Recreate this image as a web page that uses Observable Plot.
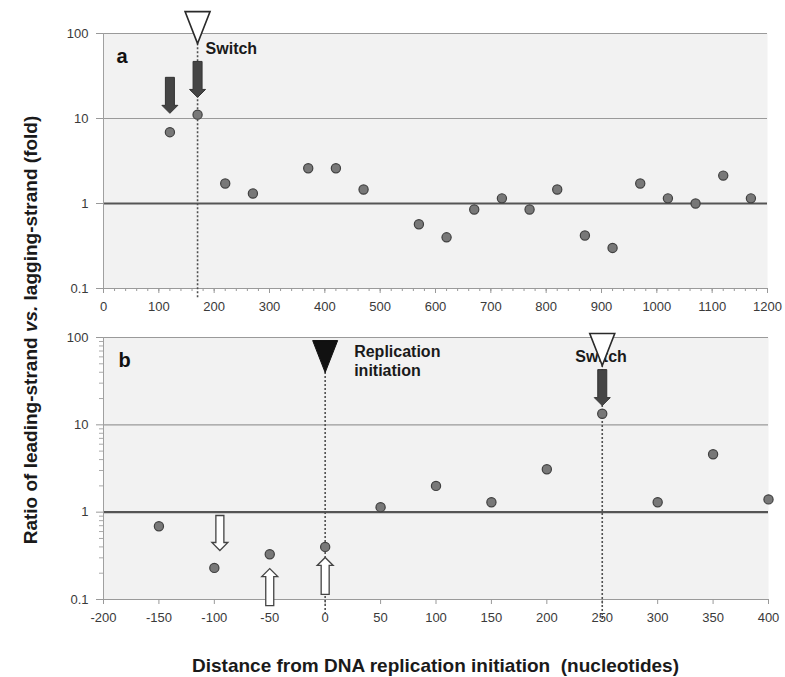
<!DOCTYPE html>
<html><head><meta charset="utf-8">
<script src="https://cdn.jsdelivr.net/npm/d3@7"></script>
<script src="https://cdn.jsdelivr.net/npm/@observablehq/plot@0.6"></script>
<style>
html,body{margin:0;padding:0;background:#fff;}
#chart{position:relative;width:785px;height:677px;overflow:hidden;font-family:"Liberation Sans",Arial,Helvetica,sans-serif;}
.panel{position:absolute;left:0;}
#ytitle{position:absolute;left:30px;top:330px;transform:translate(-50%,-50%) rotate(-90deg);white-space:nowrap;font-weight:bold;font-size:19px;line-height:19px;color:#1a1a1a;}
#xtitle{position:absolute;left:192px;top:656px;white-space:nowrap;font-weight:bold;font-size:19px;line-height:19px;color:#1a1a1a;}
</style></head><body>
<div id="chart">
<div id="panelA" class="panel" style="top:0"></div>
<div id="panelB" class="panel" style="top:320px"></div>
<div id="ytitle">Ratio of leading-strand <i>vs.</i> lagging-strand (fold)</div>
<div id="xtitle">Distance from DNA replication initiation&nbsp; (nucleotides)</div>
</div>
<script>
// ---------- data: panel a ----------
const xA = [120,170,220,270,370,420,470,570,620,670,720,770,820,870,920,970,1020,1070,1120,1170];
const yA = [6.9,11.1,1.72,1.31,2.6,2.6,1.46,0.57,0.40,0.85,1.15,0.85,1.46,0.42,0.30,1.72,1.15,1.0,2.13,1.15];
const xTicksA = [0,100,200,300,400,500,600,700,800,900,1000,1100,1200];
// annotations panel a
const switchA = [{x:170, apex:76, labelY:68, label:"Switch"}];
const darkArrowsA = [{x:120, tip:11.5},{x:170, tip:17.7}];

// ---------- data: panel b ----------
const xB = [-150,-100,-50,0,50,100,150,200,250,300,350,400];
const yB = [0.69,0.23,0.33,0.40,1.14,2.0,1.3,3.1,13.4,1.3,4.6,1.4];
const xTicksB = [-200,-150,-100,-50,0,50,100,150,200,250,300,350,400];
// annotations panel b
const initB = [{x:0, apex:39.7, labelY:54.5, label:"Replication\ninitiation"}];
const switchB = [{x:250, apex:47.8, labelY:62.2, label:"Switch"}];
const darkArrowsB = [{x:250, tip:16.6}];
const whiteDownB = [{x:-95, tip:0.364}];
const whiteUpB = [{x:-50, tip:0.226},{x:0, tip:0.303}];

// ---------- shared y axis ----------
const yTicks = [0.1,1,10,100];
const yTickLabels = ["0.1","1","10","100"];
const gridVals = [0.1,10,100];
const minorY = [0.2,0.3,0.4,0.5,0.6,0.7,0.8,0.9,2,3,4,5,6,7,8,9,20,30,40,50,60,70,80,90];

// ---------- custom symbols ----------
function downArrow(len, head, shaft, headW){
  return {draw(c){
    c.moveTo(-shaft/2,-len); c.lineTo(shaft/2,-len); c.lineTo(shaft/2,-head);
    c.lineTo(headW/2,-head); c.lineTo(0,0); c.lineTo(-headW/2,-head);
    c.lineTo(-shaft/2,-head); c.closePath();
  }};
}
function upArrow(len, head, shaft, headW){
  return {draw(c){
    c.moveTo(-shaft/2,len); c.lineTo(shaft/2,len); c.lineTo(shaft/2,head);
    c.lineTo(headW/2,head); c.lineTo(0,0); c.lineTo(-headW/2,head);
    c.lineTo(-shaft/2,head); c.closePath();
  }};
}
function downTriangle(w,h){
  return {draw(c){ c.moveTo(0,0); c.lineTo(-w/2,-h); c.lineTo(w/2,-h); c.closePath(); }};
}
const darkArrow = downArrow(36, 8, 9, 16);
const whiteDown = downArrow(35, 8, 8, 16);
const whiteUp = upArrow(37, 8, 8, 16);
const tri = downTriangle(25, 32);

const FONT = '"Liberation Sans", Arial, Helvetica, sans-serif';
const fmtY = d => yTickLabels[yTicks.indexOf(d)];

function basePanelMarks(xTicks, minorX, xMin){
  return [
    Plot.frame({fill:"#f2f2f2", stroke:"none"}),
    Plot.ruleY(gridVals, {stroke:"#9a9a9a", strokeWidth:1.2}),
    Plot.ruleY([1], {stroke:"#555", strokeWidth:2.2}),
    Plot.ruleX([xMin], {stroke:"#a0a0a0"}),
    ...(minorX ? [Plot.axisX({ticks:minorX, tickSize:3, tickFormat:()=>"", label:null, stroke:"#999"})] : []),
    Plot.axisX({ticks:xTicks, tickSize:5, tickPadding:8, tickFormat:d=>String(d), label:null, stroke:"#999", fill:"#3a3a3a"}),
    Plot.axisY({ticks:yTicks, tickSize:7, tickPadding:8, tickFormat:fmtY, label:null, stroke:"#999", fill:"#3a3a3a"})
  ];
}

const dotStyle = {r:4.6, fill:"#787878", stroke:"#404040", strokeWidth:1.2};
const dash = {stroke:"#505050", strokeWidth:1.6, strokeDasharray:"2,2"};
const lblStyle = {textAnchor:"start", fontWeight:"bold", fontSize:16, fill:"#1a1a1a", lineHeight:1.2};

const plotA = Plot.plot({
  width:785, height:320, marginLeft:103, marginRight:18, marginTop:33, marginBottom:32,
  style:{fontFamily:FONT, fontSize:"13px", color:"#3a3a3a", background:"transparent", overflow:"visible"},
  x:{domain:[0,1200], label:null},
  y:{type:"log", domain:[0.1,100], label:null},
  marks:[
    ...basePanelMarks(xTicksA, d3.range(0,1201,20), 0),
    Plot.ruleX(switchA, {x:"x", y1:"apex", y2:0.075, ...dash}),
    Plot.dot(xA, {x:xA, y:yA, ...dotStyle}),
    Plot.dot(darkArrowsA, {x:"x", y:"tip", symbol:darkArrow, fill:"#454545", stroke:"#333", strokeWidth:1}),
    Plot.dot(switchA, {x:"x", y:"apex", symbol:tri, fill:"white", stroke:"#2a2a2a", strokeWidth:1.6}),
    Plot.text(switchA, {x:"x", y:"labelY", text:"label", dx:8, ...lblStyle}),
    Plot.text(["a"], {frameAnchor:"top-left", text:d=>d, dx:13, dy:23, lineAnchor:"middle", textAnchor:"start", fontWeight:"bold", fontSize:20, fill:"#111"})
  ]
});
document.getElementById("panelA").appendChild(plotA);

const plotB = Plot.plot({
  width:785, height:320, marginLeft:103, marginRight:17, marginTop:17, marginBottom:41,
  style:{fontFamily:FONT, fontSize:"13px", color:"#3a3a3a", background:"transparent", overflow:"visible"},
  x:{domain:[-200,400], label:null},
  y:{type:"log", domain:[0.1,100], label:null},
  marks:[
    ...basePanelMarks(xTicksB, null, -200),
    Plot.axisY({ticks:minorY, tickSize:4, tickFormat:()=>"", label:null, stroke:"#aaa"}),
    Plot.ruleX(initB, {x:"x", y1:"apex", y2:0.065, ...dash}),
    Plot.ruleX(switchB, {x:"x", y1:"apex", y2:0.057, ...dash}),
    Plot.dot(xB, {x:xB, y:yB, ...dotStyle}),
    Plot.text(initB, {x:"x", y:"labelY", text:"label", dx:29, lineAnchor:"middle", ...lblStyle}),
    Plot.text(switchB, {x:"x", y:"labelY", text:"label", dx:-27, ...lblStyle}),
    Plot.dot(initB, {x:"x", y:"apex", symbol:tri, fill:"#111", stroke:"#111", strokeWidth:1}),
    Plot.dot(switchB, {x:"x", y:"apex", symbol:tri, fill:"white", stroke:"#2a2a2a", strokeWidth:1.6}),
    Plot.dot(darkArrowsB, {x:"x", y:"tip", symbol:darkArrow, fill:"#454545", stroke:"#333", strokeWidth:1}),
    Plot.dot(whiteDownB, {x:"x", y:"tip", symbol:whiteDown, fill:"white", stroke:"#444", strokeWidth:1.3}),
    Plot.dot(whiteUpB, {x:"x", y:"tip", symbol:whiteUp, fill:"white", stroke:"#444", strokeWidth:1.3}),
    Plot.text(["b"], {frameAnchor:"top-left", text:d=>d, dx:15, dy:23, lineAnchor:"middle", textAnchor:"start", fontWeight:"bold", fontSize:20, fill:"#111"})
  ]
});
document.getElementById("panelB").appendChild(plotB);
</script>
</body></html>
